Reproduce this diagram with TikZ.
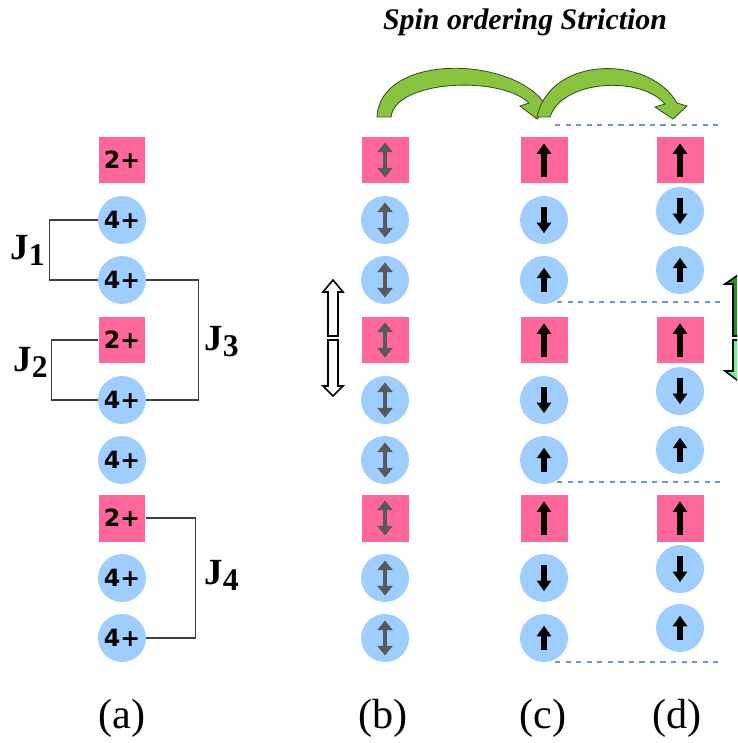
\documentclass[tikz,border=0pt]{standalone}
\usepackage{fontspec}
\setmainfont{Liberation Serif}
\newfontfamily\ionfont{DejaVu Sans}
\usetikzlibrary{arrows.meta}
\definecolor{ionpink}{RGB}{255,102,153}
\definecolor{ionblue}{RGB}{158,206,255}
\definecolor{arcgreen}{RGB}{137,196,64}
\definecolor{arcedge}{RGB}{55,85,30}
\definecolor{cutblue}{RGB}{110,150,205}
\definecolor{upgreen}{RGB}{45,140,45}
\definecolor{downgreen}{RGB}{120,240,150}

\begin{document}
\begin{tikzpicture}[x=0.02cm,y=-0.02cm,
  site2/.style={fill=ionpink,minimum size=0.94cm,inner sep=0pt,font=\ionfont\bfseries\fontsize{13.5}{14}\selectfont},
  site4/.style={circle,fill=ionblue,minimum size=0.96cm,inner sep=0pt,font=\ionfont\bfseries\fontsize{13.5}{14}\selectfont},
  bond/.style={draw=black!75,line width=0.6pt},
  jlabel/.style={font=\bfseries\fontsize{21}{22}\selectfont,inner sep=0pt},
  spin/.style={line width=3.8pt,-{Triangle[length=6pt,width=8pt]}},
  bispin/.style={line width=2.4pt,draw=black!65,{Triangle[length=5.5pt,width=8.5pt]}-{Triangle[length=5.5pt,width=8.5pt]}},
  cut/.style={draw=cutblue,dashed,line width=0.6pt},
  panel/.style={font=\fontsize{24}{26}\selectfont}]
  \useasboundingbox (0,0) rectangle (737,743);
  \clip (0,0) rectangle (737,743);

  % title and the two striction arcs
  \node[font=\bfseries\itshape\fontsize{17}{20}\selectfont] (title) at (525,22) {Spin ordering Striction};
  \filldraw[fill=arcgreen,draw=arcedge,line width=0.5pt]
    (391,117) .. controls (395,80) and (500,75) .. (529,103) -- (520,106) -- (537,119)
    -- (553,102) -- (543,101) .. controls (505,55) and (380,55) .. (377,117) -- cycle;
  \filldraw[fill=arcgreen,draw=arcedge,line width=0.5pt]
    (550,117) .. controls (562,80) and (640,75) .. (665,104) -- (655,107) -- (673,119)
    -- (687,106) -- (677,103) .. controls (650,55) and (550,55) .. (537,117) -- cycle;

  % (a) ions
  \foreach \i/\y in {1/160,4/340,7/518}
    \node[site2] (a\i) at (122,\y) {2+};
  \foreach \i/\y in {2/220,3/280,5/400,6/460,8/578,9/638}
    \node[site4] (a\i) at (122,\y) {4+};

  % exchange paths
  \draw[bond] (a2.west) -- ++(-48,0) |- (a3.west);
  \draw[bond] (a4.west) -- ++(-47,0) |- (a5.west);
  \draw[bond] (a3.east) -- ++(52,0) |- (a5.east);
  \draw[bond] (a7.east) -- ++(50,0) |- (a9.east);
  \node[jlabel,anchor=east] (j1) at (45,250) {J\raisebox{-0.35ex}{\fontsize{18}{18}\selectfont 1}};
  \node[jlabel,anchor=east] (j2) at (48,362) {J\raisebox{-0.35ex}{\fontsize{18}{18}\selectfont 2}};
  \node[jlabel,anchor=west] (j3) at (204,342) {J\raisebox{-0.35ex}{\fontsize{18}{18}\selectfont 3}};
  \node[jlabel,anchor=west] (j4) at (204,575) {J\raisebox{-0.35ex}{\fontsize{18}{18}\selectfont 4}};

  % (b), (c), (d) ions
  \foreach \c/\x in {b/385,c/544,d/680}
    \foreach \i/\y in {1/160,4/340,7/518}
      \node[site2] (\c\i) at (\x,\y) {};
  \foreach \c in {b,c}
    \foreach \i/\y in {2/220,3/280,5/400,6/460,8/578,9/638}
      \node[site4] (\c\i) at ({\c1}|-0,\y) {};
  \foreach \i/\y in {2/211,3/270,5/391,6/450,8/569,9/628}
    \node[site4] (d\i) at (680,\y) {};

  % spins
  \foreach \i in {1,...,9}
    \draw[bispin] ([yshift=-10pt]b\i.center) -- ([yshift=10pt]b\i.center);
  \foreach \c in {c,d} {
    \foreach \i in {1,4,7}
      \draw[spin] ([yshift=-9.5pt]\c\i.center) -- ([yshift=9.5pt]\c\i.center);
    \foreach \i in {2,5,8}
      \draw[spin] ([yshift=7.5pt]\c\i.center) -- ([yshift=-7.5pt]\c\i.center);
    \foreach \i in {3,6,9}
      \draw[spin] ([yshift=-7pt]\c\i.center) -- ([yshift=7pt]\c\i.center);
  }

  % cell boundaries
  \draw[cut] (555,125) -- (720,125);
  \draw[cut] (557,302) -- (720,302);
  \draw[cut] (557,482) -- (720,482);
  \draw[cut] (555,662) -- (720,662);

  % hollow double arrow
  \draw[line width=0.9pt,fill=white] (333,280) -- (343,292) -- (338,292) -- (338,336)
    -- (328,336) -- (328,292) -- (323,292) -- cycle;
  \draw[line width=0.9pt,fill=white] (328,340) -- (338,340) -- (338,386) -- (343,386)
    -- (333,396) -- (323,386) -- (328,386) -- cycle;

  % green double arrow at the edge
  \draw[line width=0.9pt,fill=upgreen] (741,273) -- (757,284) -- (749,284) -- (749,336)
    -- (733,336) -- (733,284) -- (725,284) -- cycle;
  \draw[line width=0.9pt,fill=downgreen] (733,340) -- (749,340) -- (749,371) -- (757,371)
    -- (741,383) -- (725,371) -- (733,371) -- cycle;

  % panel labels
  \node[panel] (pa) at (122,718) {(a)};
  \node[panel] (pb) at (383,718) {(b)};
  \node[panel] (pc) at (543,718) {(c)};
  \node[panel] (pd) at (677,718) {(d)};
\end{tikzpicture}
\end{document}
